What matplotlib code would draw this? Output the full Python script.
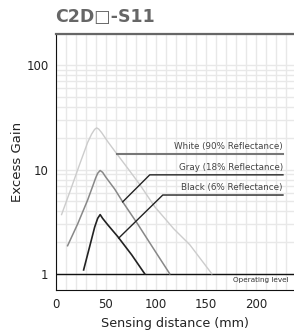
import matplotlib
matplotlib.use('Agg')
import matplotlib.pyplot as plt
from matplotlib.ticker import FixedLocator, NullFormatter

plt.rcParams['font.family'] = ['DejaVu Sans']

# ── Data ──
white_x = [6, 15, 24, 32, 36, 39, 41, 43, 46, 52, 61, 72, 84, 99, 118, 134, 156]
white_y = [3.7, 6.4, 11.2, 18.2, 21.9, 24.3, 25.1, 24.5, 22.6, 18.6, 14.2, 10.3, 7.2, 4.4, 2.7, 1.9, 1.0]

gray_x = [12, 22, 32, 37, 40, 42, 44.5, 47, 50, 59, 67, 82, 99, 114]
gray_y = [1.86, 3.0, 5.1, 6.9, 8.3, 9.2, 9.8, 9.4, 8.5, 6.5, 4.9, 3.0, 1.67, 1.0]

black_x = [28, 34, 39, 42, 44.5, 47, 52, 62, 76, 89]
black_y = [1.09, 1.82, 2.8, 3.4, 3.7, 3.4, 2.96, 2.28, 1.52, 1.0]

labels = ['White (90% Reflectance)', 'Gray (18% Reflectance)', 'Black (6% Reflectance)']
# leader: start on curve, elbow, end (x, y)
leaders = [
    [(61, 14.2), (61, 14.2), (227, 14.2)],
    [(67, 4.9), (94, 8.9), (227, 8.9)],
    [(63, 2.2), (107, 5.7), (227, 5.7)],
]
leader_cols = ['#777777', '#222222', '#222222']

fig = plt.figure(figsize=(2.94, 3.36), dpi=100)
ax = fig.add_axes([0.189, 0.137, 0.811, 0.762])

ax.set_yscale('log')
ax.set_xlim(0, 238)
ax.set_ylim(0.7, 200)

# grid
ax.xaxis.set_major_locator(FixedLocator([0, 50, 100, 150, 200]))
ax.xaxis.set_minor_locator(FixedLocator(range(10, 240, 10)))
ax.yaxis.set_major_locator(FixedLocator([1, 10, 100]))
ax.yaxis.set_minor_locator(FixedLocator([m * d for d in (1, 10, 100) for m in range(2, 10)]))
ax.yaxis.set_major_formatter(plt.FixedFormatter(['1', '10', '100']))
ax.yaxis.set_minor_formatter(NullFormatter())
ax.grid(True, which='both', color='#e8e8e8', lw=1.0, zorder=0)
ax.set_axisbelow(True)
ax.tick_params(which='both', length=0, labelsize=8.5, colors='#222222')
ax.tick_params(axis='x', pad=6)
ax.tick_params(axis='y', pad=5)

ax.spines['right'].set_visible(False)
ax.spines['top'].set_color('#666666')
ax.spines['top'].set_linewidth(1.6)
ax.spines['left'].set_color('#111111')
ax.spines['bottom'].set_color('#111111')

ax.axhline(1, color='#111111', lw=1.0, zorder=3)
ax.text(233, 0.93, 'Operating level', ha='right', va='top', fontsize=5.2, color='#333333')

ax.plot(white_x, white_y, color='#cccccc', lw=1.0, zorder=4)
ax.plot(gray_x, gray_y, color='#888888', lw=1.1, zorder=4)
ax.plot(black_x, black_y, color='#222222', lw=1.2, zorder=4)

for pts, lab, c in zip(leaders, labels, leader_cols):
    xs = [p[0] for p in pts]
    ys = [p[1] for p in pts]
    ax.plot(xs, ys, color=c, lw=1.0 if c == '#222222' else 1.5, zorder=5)
    ax.text(pts[2][0], pts[2][1] * 1.07, lab, ha='right', va='bottom', fontsize=6.3, color='#444444')

ax.set_xlabel('Sensing distance (mm)', fontsize=9.2, color='#222222', labelpad=4)
ax.set_ylabel('Excess Gain', fontsize=9.5, color='#222222', labelpad=2)

fig.text(0.187, 0.949, 'C2D\u25a1-S11', fontsize=12.5, fontweight='bold', color='#666666',
         ha='left', va='center')

fig.savefig('out.png', dpi=100)
